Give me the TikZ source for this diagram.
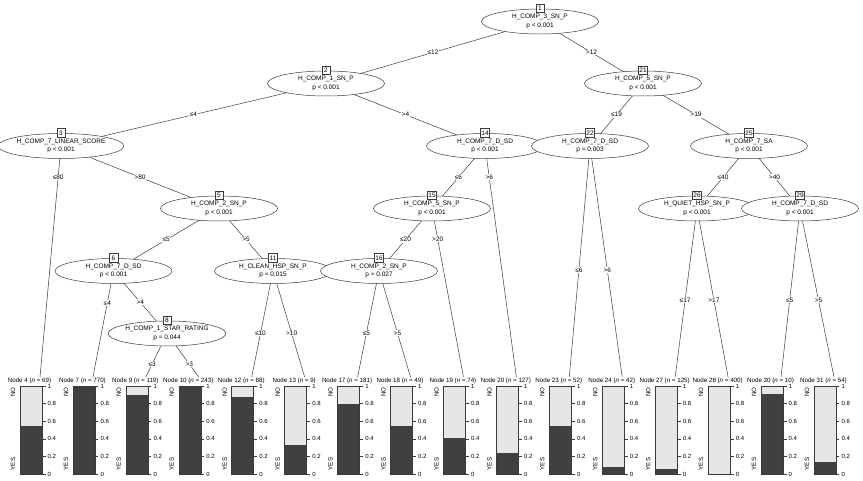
\documentclass[tikz,border=0pt]{standalone}
\usepackage{fontspec}
\setmainfont{Liberation Sans}
\usetikzlibrary{shapes.geometric,backgrounds}
\definecolor{barDark}{HTML}{404040}
\definecolor{barLight}{HTML}{E6E6E6}
\definecolor{lineC}{HTML}{3A3A3A}
\begin{document}
\begin{tikzpicture}[x=1pt,y=-1pt,
  inner/.style={ellipse, draw=lineC, fill=white, line width=0.5pt,
    minimum width=117pt, minimum height=25pt, inner sep=0pt, align=center,
    font=\fontsize{6.5}{8.5}\selectfont},
  idbox/.style={draw=lineC, fill=white, line width=0.5pt, inner sep=1pt,
    minimum width=8.5pt, minimum height=8.5pt, font=\fontsize{6.5}{7}\selectfont},
  edge/.style={draw=lineC, line width=0.5pt},
  elab/.style={fill=white, inner sep=0.6pt, font=\fontsize{6.5}{7}\selectfont},
  ptitle/.style={inner sep=0pt, font=\fontsize{6.2}{7}\selectfont},
  tick/.style={draw=lineC, line width=0.4pt},
  ticklab/.style={anchor=west, inner sep=0.5pt, font=\fontsize{6}{7}\selectfont},
  axlab/.style={rotate=90, inner sep=0pt, font=\fontsize{6.2}{7}\selectfont},
  barframe/.style={draw=lineC, line width=0.5pt}
]
\useasboundingbox (0,0) rectangle (863,481);

% inner nodes (drawn in id order)
\foreach \nm/\x/\y/\var/\p in {
  1/540/21.5/H\_COMP\_3\_SN\_P/p < 0.001,
  2/326/83.5/H\_COMP\_1\_SN\_P/p < 0.001,
  3/61/146/H\_COMP\_7\_LINEAR\_SCORE/p < 0.001,
  5/219/208.5/H\_COMP\_2\_SN\_P/p < 0.001,
  6/113.5/271/H\_COMP\_7\_D\_SD/p < 0.001,
  8/167/333.5/H\_COMP\_1\_STAR\_RATING/p = 0.044,
  11/273/271/H\_CLEAN\_HSP\_SN\_P/p = 0.015,
  14/485/146/H\_COMP\_7\_D\_SD/p < 0.001,
  15/432/208.5/H\_COMP\_5\_SN\_P/p < 0.001,
  16/379/271/H\_COMP\_2\_SN\_P/p = 0.027,
  21/643/83.5/H\_COMP\_5\_SN\_P/p < 0.001,
  22/590/146/H\_COMP\_7\_D\_SD/p = 0.003,
  25/749/146/H\_COMP\_7\_SA/p < 0.001,
  26/697/208.5/H\_QUIET\_HSP\_SN\_P/p < 0.001,
  29/800/208.5/H\_COMP\_7\_D\_SD/p < 0.001} {
  \node[inner] (n\nm) at (\x,\y) {\var\\\p};
  \node[idbox] (b\nm) at ([yshift=13pt]n\nm.center) {\nm};
}

% terminal panels
\foreach \k/\id/\n/\f in {
  0/4/69/0.545, 1/7/770/0.995, 2/9/119/0.90, 3/10/243/0.985,
  4/12/88/0.875, 5/13/9/0.33, 6/17/181/0.80, 7/18/49/0.545,
  8/19/74/0.41, 9/20/127/0.235, 10/23/52/0.54, 11/24/42/0.083,
  12/27/125/0.06, 13/28/400/0.003, 14/30/10/0.905, 15/31/54/0.14} {
  \pgfmathsetmacro{\L}{20+52.93*\k}
  \coordinate (t\id) at (\L+20,377);
  \fill[barLight] (\L,386) rectangle (\L+22,474);
  \fill[barDark] (\L,474) rectangle (\L+22,474-88*\f);
  \draw[barframe] (\L,386) rectangle (\L+22,474);
  \foreach \t in {0,0.2,0.4,0.6,0.8,1} {
    \draw[tick] (\L+22,474-88*\t) -- (\L+25.5,474-88*\t)
      node[ticklab, xshift=1.5pt] {\t};
  }
  \node[axlab] at (\L-7,392) {NO};
  \node[axlab] at (\L-7,464) {YES};
  \node[ptitle, fill=white] (h\id) at (\L+9.5,381) {Node \id\ (\textit{n} = \n)};
}

% connectors
\begin{scope}[on background layer]
  \draw[edge] (n1.center) -- node[elab]{≤12} (n2.center);
  \draw[edge] (n1.center) -- node[elab]{>12} (n21.center);
  \draw[edge] (n2.center) -- node[elab]{≤4} (n3.center);
  \draw[edge] (n2.center) -- node[elab]{>4} (n14.center);
  \draw[edge] (n3.center) -- node[elab,pos=0.134]{≤80} (t4);
  \draw[edge] (n3.center) -- node[elab]{>80} (n5.center);
  \draw[edge] (n5.center) -- node[elab]{≤5} (n6.center);
  \draw[edge] (n5.center) -- node[elab]{>5} (n11.center);
  \draw[edge] (n6.center) -- node[elab,pos=0.30]{≤4} (t7);
  \draw[edge] (n6.center) -- node[elab]{>4} (n8.center);
  \draw[edge] (n8.center) -- node[elab,pos=0.70]{≤3} (t9);
  \draw[edge] (n8.center) -- node[elab,pos=0.70]{>3} (t10);
  \draw[edge] (n11.center) -- node[elab,pos=0.59]{≤10} (t12);
  \draw[edge] (n11.center) -- node[elab,pos=0.59]{>10} (t13);
  \draw[edge] (n14.center) -- node[elab]{≤6} (n15.center);
  \draw[edge] (n14.center) -- node[elab,pos=0.134]{>6} (t20);
  \draw[edge] (n15.center) -- node[elab]{≤20} (n16.center);
  \draw[edge] (n15.center) -- node[elab,pos=0.183]{>20} (t19);
  \draw[edge] (n16.center) -- node[elab,pos=0.585]{≤5} (t17);
  \draw[edge] (n16.center) -- node[elab,pos=0.585]{>5} (t18);
  \draw[edge] (n21.center) -- node[elab]{≤19} (n22.center);
  \draw[edge] (n21.center) -- node[elab]{>19} (n25.center);
  \draw[edge] (n22.center) -- node[elab,pos=0.537]{≤6} (t23);
  \draw[edge] (n22.center) -- node[elab,pos=0.537]{>6} (t24);
  \draw[edge] (n25.center) -- node[elab]{≤40} (n26.center);
  \draw[edge] (n25.center) -- node[elab]{>40} (n29.center);
  \draw[edge] (n26.center) -- node[elab,pos=0.544]{≤17} (t27);
  \draw[edge] (n26.center) -- node[elab,pos=0.544]{>17} (t28);
  \draw[edge] (n29.center) -- node[elab,pos=0.544]{≤5} (t30);
  \draw[edge] (n29.center) -- node[elab,pos=0.544]{>5} (t31);
\end{scope}
\end{tikzpicture}
\end{document}
